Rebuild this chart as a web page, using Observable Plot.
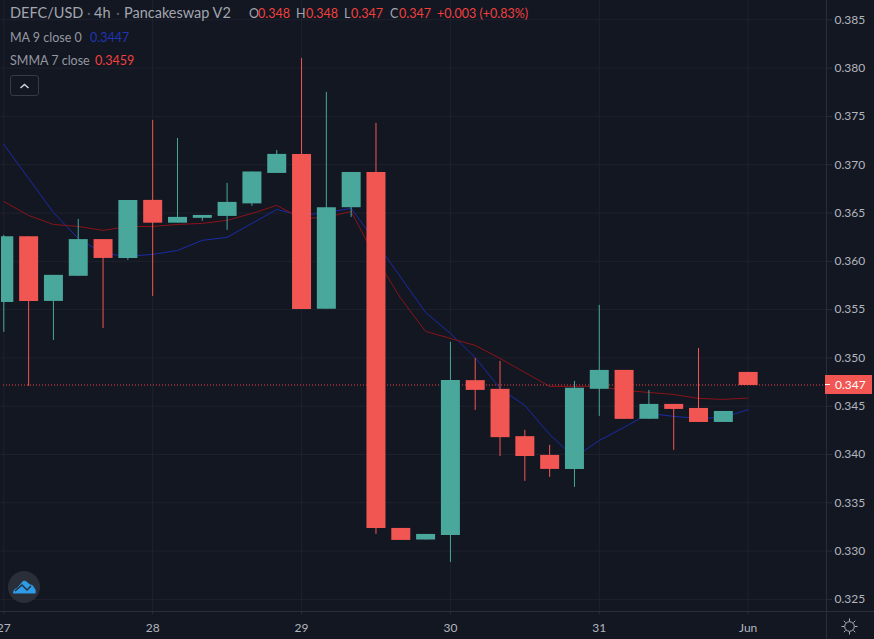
<!DOCTYPE html>
<html>
<head>
<meta charset="utf-8">
<script src="https://cdn.jsdelivr.net/npm/d3@7"></script>
<script src="https://cdn.jsdelivr.net/npm/@observablehq/plot@0.6"></script>
<style>
html,body{margin:0;padding:0;background:#131722;overflow:hidden}
#wrap{position:relative;width:874px;height:639px;font-family:Lato,sans-serif;overflow:hidden}
#wrap svg{display:block}
.t{position:absolute;white-space:pre;color:#a3a6af;line-height:1}
.r{color:#f2403f}
</style>
</head>
<body>
<div id="wrap"></div>
<script>
const opens  = [.3558,.3626,.3559,.3585,.3623,.36035,.36636,.3640,.3645,.3647,.3660,.36915,.3711,.3551,.3656,.36925,.3324,.3312,.33168,.3477,.3468,.3419,.33996,.3385,.3468,.34876,.3437,.34524,.34482,.34337,.34855];
const closes = [.3626,.3559,.3586,.3623,.36035,.36636,.3640,.3646,.3648,.36615,.3693,.37112,.35507,.3656,.36925,.3324,.33116,.33178,.34772,.34669,.3418,.33985,.33851,.3469,.34876,.34369,.34524,.34472,.34337,.34451,.3472];
const highs  = [.36273,.3626,.3586,.36439,.3623,.36636,.37464,.37277,.3648,.36812,.3693,.37153,.38106,.37754,.36925,.37433,.3324,.33178,.35166,.35,.3497,.34255,.341,.34762,.35549,.34876,.34669,.34524,.35104,.34451,.34855];
const lows   = [.3527,.3471,.35186,.3585,.3531,.36015,.35642,.3640,.3642,.36325,.36574,.36915,.35507,.3551,.3646,.33178,.33116,.3312,.32888,.34462,.33985,.33727,.33768,.33665,.344,.34369,.3437,.34048,.34337,.34337,.3472];
const maValues = [.37215,.36863,.36511,.36242,.36087,.36056,.36077,.36118,.36222,.36253,.36398,.36542,.3648,.36511,.36553,.36201,.35839,.35476,.35259,.3501,.34689,.34513,.34213,.33975,.34151,.34286,.34431,.344,.34379,.34389,.3447];
const smmaValues = [.36625,.3648,.36387,.36366,.36325,.36366,.36366,.36387,.36398,.36429,.36501,.36584,.36449,.3646,.36522,.36035,.35621,.3528,.35207,.35135,.35,.34855,.3471,.3471,.3471,.34669,.34648,.34627,.34586,.34576,.3459];
const priceTicks = [.325,.33,.335,.34,.345,.35,.355,.36,.365,.37,.375,.38,.385];
const dayTicks = ["2021-05-27","2021-05-28","2021-05-29","2021-05-30","2021-05-31","2021-06-01"].map(d => new Date(d + "T00:00Z"));
const firstCandle = Date.UTC(2021, 4, 27);
const times = opens.map((_, i) => new Date(firstCandle + i * 4 * 3600e3));
const candles = times.map((t, i) => ({t, o: opens[i], c: closes[i], h: highs[i], l: lows[i]}));
const lastClose = closes[closes.length - 1];

const up = "#4aa79b", down = "#f25652", grid = "#1e222d", ink = "#b2b5be";
const candleColor = d => d.c >= d.o ? up : down;

const chart = Plot.plot({
  width: 874, height: 639,
  marginLeft: 0, marginRight: 48, marginTop: 0, marginBottom: 28,
  style: {background: "#131722", fontFamily: "Lato, sans-serif", fontSize: "12px", color: ink},
  x: {type: "utc", domain: [new Date(Date.UTC(2021,4,26,23,28)), new Date(Date.UTC(2021,5,1,12,38))]},
  y: {domain: [.32375, .38700]},
  marks: [
    Plot.gridY(priceTicks, {stroke: grid, strokeOpacity: 1}),
    Plot.gridX(dayTicks, {stroke: grid, strokeOpacity: 1}),
    Plot.axisY(priceTicks, {anchor: "right", label: null, tickSize: 5, tickPadding: 3, stroke: "#2a2e39", fill: ink, tickFormat: ".3f"}),
    Plot.axisX(dayTicks, {anchor: "bottom", label: null, tickSize: 3, tickPadding: 9, stroke: "#2a2e39", fill: ink,
      tickFormat: d => d.getUTCMonth() === 5 ? "Jun" : String(d.getUTCDate())}),
    Plot.line(times.map((t, i) => ({t, v: maValues[i]})), {x: "t", y: "v", stroke: "#1a2ba6", strokeWidth: 1, dy: 0.5}),
    Plot.line(times.map((t, i) => ({t, v: smmaValues[i]})), {x: "t", y: "v", stroke: "#8a1319", strokeWidth: 1, dy: 0.5}),
    Plot.ruleY([lastClose], {stroke: "#f2403f", strokeWidth: 1, strokeDasharray: "1,2"}),
    Plot.ruleX(candles, {x: "t", y1: "l", y2: "h", stroke: candleColor, strokeWidth: 1, dy: 0.5}),
    Plot.ruleX(candles, {x: "t", y1: "o", y2: "c", stroke: candleColor, strokeWidth: 19, dy: 0.5})
  ]
});
const wrap = document.getElementById("wrap");
wrap.appendChild(chart);

function label(text, x, y, size, cls, color) {
  const s = document.createElement("div");
  s.className = "t" + (cls ? " " + cls : "");
  s.textContent = text;
  s.style.left = x + "px"; s.style.top = y + "px"; s.style.fontSize = size + "px";
  if (color) s.style.color = color;
  wrap.appendChild(s);
  return s;
}
function box(x, y, w, h, bg) {
  const s = document.createElement("div");
  s.style.cssText = `position:absolute;left:${x}px;top:${y}px;width:${w}px;height:${h}px;background:${bg}`;
  wrap.appendChild(s);
  return s;
}
box(0, 0, 1, 611, "#131722");
box(826, 0, 1, 639, "#2a2e39");
box(0, 611, 874, 1, "#2a2e39");

label("DEFC/USD", 10, 6, 14.5);
label("·", 87, 6, 14.5, "", "#5d606b");
label("4h", 94, 6, 14.5);
label("·", 116, 6, 14.5, "", "#5d606b");
label("Pancakeswap V2", 124, 6, 14.5);
label("O", 249, 8, 12.5);
label("0.348", 258, 8, 12.5, "r");
label("H", 296, 8, 12.5);
label("0.348", 306, 8, 12.5, "r");
label("L", 344, 8, 12.5);
label("0.347", 351, 8, 12.5, "r");
label("C", 390, 8, 12.5);
label("0.347", 399, 8, 12.5, "r");
label("+0.003 (+0.83%)", 437, 8, 12.5, "r");
label("MA 9 close 0", 10, 32, 12.5, "", "#9598a1");
label("0.3447", 90, 32, 12.5, "", "#1f35b5");
label("SMMA 7 close", 10, 55, 12.5, "", "#9598a1");
label("0.3459", 95, 55, 12.5, "r");

const btn = box(10, 75, 27, 19, "transparent");
btn.style.border = "1px solid #363a45"; btn.style.borderRadius = "3px";
btn.innerHTML = '<svg width="27" height="19"><path d="M9.5 12 L13.5 8.5 L17.5 12" fill="none" stroke="#d1d4dc" stroke-width="1.5"/></svg>';

const tag = box(825, 375, 47, 19, "#f25652");
const tagText = label(d3.format(".3f")(lastClose), 835, 379, 12, "", "#ffffff");
box(825, 384, 5, 1, "#ffffff");

const logo = box(8, 571, 32, 32, "transparent");
logo.innerHTML = '<svg width="32" height="32"><circle cx="16" cy="16" r="16" fill="#2a2e39"/><path d="M5 22.5 Q5 18 9 17 L15 10 Q17 9 19 11 L22 13.5 Q25 13.5 26 16.5 Q28.5 18.5 27.5 22.5 Z" fill="#2d9be6"/><path d="M7 20 L14 14 L19 19 L23 15" fill="none" stroke="#2a2e39" stroke-width="1.5"/></svg>';

const sun = box(841, 618, 18, 18, "transparent");
sun.innerHTML = '<svg width="18" height="18" fill="none" stroke="#b2b5be" stroke-width="1"><circle cx="8.5" cy="8.5" r="4.8"/><path d="M8.5 0.5V3M8.5 14V16.5M0.5 8.5H3M14 8.5H16.5M2.8 2.8L4.6 4.6M12.4 12.4L14.2 14.2M14.2 2.8L12.4 4.6M4.6 12.4L2.8 14.2"/></svg>';
</script>
</body>
</html>
